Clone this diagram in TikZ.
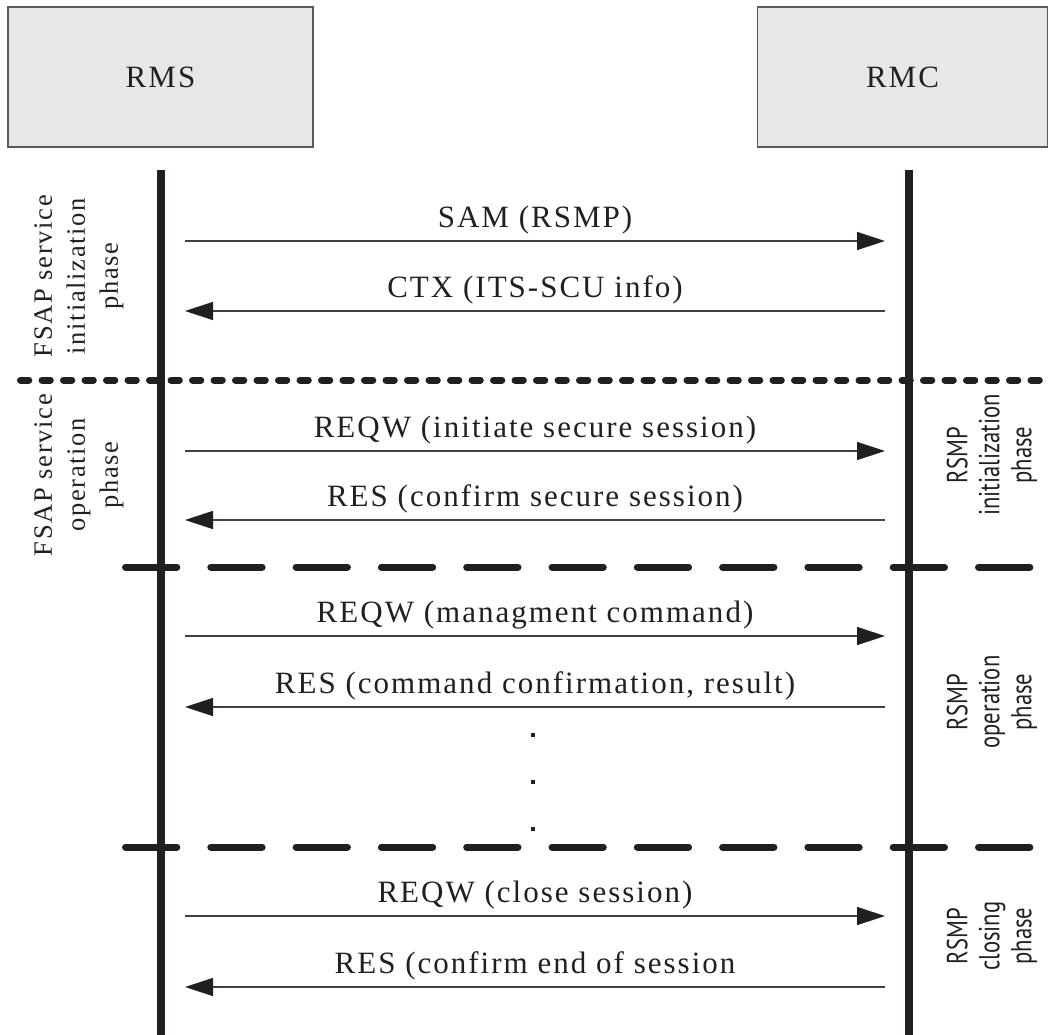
\documentclass[tikz,border=0pt]{standalone}
\usepackage{fontspec}
\setmainfont{Liberation Serif}[LetterSpace=6.5]
\newfontfamily\sidesans{PT Sans}[FakeStretch=0.78]
\usetikzlibrary{arrows.meta}
\definecolor{ink}{HTML}{231F20}
\definecolor{boxfill}{HTML}{E6E7E8}
\definecolor{boxline}{HTML}{5A5A5A}
\tikzset{
  entity/.style={draw=boxline, line width=1.5pt, fill=boxfill, text=ink,
    font=\fontsize{31}{36}\selectfont, inner sep=0pt},
  life/.style={draw=ink, line width=8pt},
  msg/.style={draw=ink!85, line width=1.3pt,
    -{Triangle[length=28pt,width=18pt,color=ink,fill=ink]}},
  msglabel/.style={text=ink, font=\fontsize{31}{36}\selectfont, anchor=base, inner sep=0pt},
  dotsep/.style={draw=ink, line width=7pt, line cap=round, dash pattern=on 8.3pt off 13.2pt},
  dashsep/.style={draw=ink, line width=7pt, line cap=round, dash pattern=on 51.3pt off 34pt},
  phaseL/.style={text=ink, rotate=90, align=center, inner sep=0pt,
    font=\fontsize{26.5}{33}\selectfont},
  phaseR/.style={text=ink, rotate=90, align=center, inner sep=0pt,
    font=\sidesans\fontsize{29}{32}\selectfont},
  ellip/.style={fill=ink, minimum size=4pt, inner sep=0pt}
}
\begin{document}
\begin{tikzpicture}[x=1pt,y=-1pt]
\useasboundingbox (0,0) rectangle (1049,1034);

% participants
\node[entity, minimum width=305pt, minimum height=140pt] (rms) at (160.5,77) {RMS};
\node[entity, minimum width=290pt, minimum height=140pt] (rmc) at (902.5,77) {RMC};

% lifelines
\coordinate (lt) at (161,170);
\coordinate (lb) at (161,1040);
\coordinate (rt) at (909,170);
\coordinate (rb) at (909,1040);
\draw[life] (lt) -- (lb);
\draw[life] (rt) -- (rb);

% phase separators
\coordinate (s1a) at (20.5,380);
\coordinate (s1b) at (1060,380);
\draw[dotsep] (s1a) -- (s1b);
\coordinate (s2a) at (125.5,567);
\coordinate (s2b) at (1030,567);
\draw[dashsep] (s2a) -- (s2b);
\coordinate (s3a) at (125.5,847);
\coordinate (s3b) at (1030,847);
\draw[dashsep] (s3a) -- (s3b);

% messages
\foreach \n/\y in {1/241,2/311,3/451,4/520,5/636,6/707,7/916,8/987}{
  \coordinate (a\n) at (185,\y);
  \coordinate (b\n) at (885,\y);
}
\draw[msg] (a1) -- (b1) node[msglabel, midway, yshift=14pt] {SAM (RSMP)};
\draw[msg] (b2) -- (a2) node[msglabel, midway, yshift=14pt] {CTX (ITS-SCU info)};
\draw[msg] (a3) -- (b3) node[msglabel, midway, yshift=14pt] {REQW (initiate secure session)};
\draw[msg] (b4) -- (a4) node[msglabel, midway, yshift=14pt] {RES (confirm secure session)};
\draw[msg] (a5) -- (b5) node[msglabel, midway, yshift=14pt] {REQW (managment command)};
\draw[msg] (b6) -- (a6) node[msglabel, midway, yshift=14pt] {RES (command confirmation, result)};
\draw[msg] (a7) -- (b7) node[msglabel, midway, yshift=14pt] {REQW (close session)};
\draw[msg] (b8) -- (a8) node[msglabel, midway, yshift=14pt] {RES (confirm end of session};

% continuation dots
\node[ellip] (e1) at (533,735) {};
\node[ellip] (e2) at (533,782) {};
\node[ellip] (e3) at (533,829) {};

% phase labels, RMS side
\node[phaseL] (fsapinit) at (79,276) {FSAP service\\initialization\\phase};
\node[phaseL] (fsapop) at (79,475) {FSAP service\\operation\\phase};

% phase labels, RMC side
\node[phaseR] (rsmpinit) at (992,455) {RSMP\\initialization\\phase};
\node[phaseR] (rsmpop) at (992,702) {RSMP\\operation\\phase};
\node[phaseR] (rsmpclose) at (992,936) {RSMP\\closing\\phase};
\end{tikzpicture}
\end{document}
